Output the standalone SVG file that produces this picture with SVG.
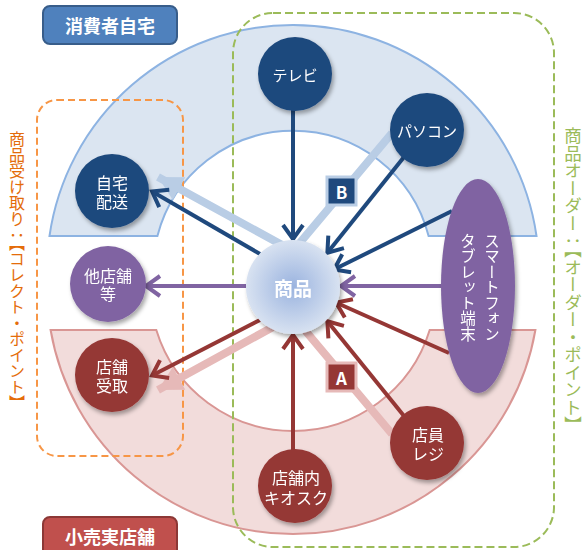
<svg xmlns="http://www.w3.org/2000/svg" width="584" height="550" viewBox="0 0 584 550">
<defs>
<style>
text{font-family:"Noto Sans CJK JP","Noto Sans",sans-serif}
.wt{fill:#fff;font-size:16px;text-anchor:middle;dominant-baseline:central}
.kn{font-size:15px}
.lbl{fill:#fff;font-size:18px;font-weight:bold;text-anchor:middle;dominant-baseline:central}
.vt{writing-mode:vertical-rl}
.ring-b{fill:#DBE5F1;stroke:#8DB3E2;stroke-width:2}
.ring-r{fill:#F2DCDB;stroke:#D99694;stroke-width:2}
.dash-o{fill:none;stroke:#F79646;stroke-width:2;stroke-dasharray:7 4}
.dash-g{fill:none;stroke:#9BBB59;stroke-width:2;stroke-dasharray:8 4}
.ab{fill:none;stroke:#1F497D;stroke-width:4;marker-end:url(#mb)}
.ar{fill:none;stroke:#953735;stroke-width:4;marker-end:url(#mr)}
.ap{fill:none;stroke:#8064A2;stroke-width:4;marker-end:url(#mp)}
.lb{fill:none;stroke:#B9CDE5;stroke-width:8;stroke-linejoin:round;marker-end:url(#mlb)}
.lr{fill:none;stroke:#E6B9B8;stroke-width:8;stroke-linejoin:round;marker-end:url(#mlr)}
.sh{filter:url(#sh)}
</style>
<filter id="sh" x="-30%" y="-30%" width="160%" height="160%"><feDropShadow dx="2" dy="3" stdDeviation="2" flood-color="#000" flood-opacity="0.35"/></filter>
<radialGradient id="g" cx="50%" cy="50%" r="50%"><stop offset="0" stop-color="#9AB3DF"/><stop offset="1" stop-color="#D8E2F1"/></radialGradient>
<marker id="mb" markerUnits="userSpaceOnUse" markerWidth="24" markerHeight="24" viewBox="0 0 24 24" refX="18" refY="12" orient="auto" overflow="visible"><path d="M5,2 L19,12 L5,22" fill="none" stroke="#1F497D" stroke-width="4"/></marker>
<marker id="mr" markerUnits="userSpaceOnUse" markerWidth="24" markerHeight="24" viewBox="0 0 24 24" refX="18" refY="12" orient="auto" overflow="visible"><path d="M5,2 L19,12 L5,22" fill="none" stroke="#953735" stroke-width="4"/></marker>
<marker id="mp" markerUnits="userSpaceOnUse" markerWidth="24" markerHeight="24" viewBox="0 0 24 24" refX="18" refY="12" orient="auto" overflow="visible"><path d="M5,2 L19,12 L5,22" fill="none" stroke="#8064A2" stroke-width="4"/></marker>
<marker id="mlb" markerUnits="userSpaceOnUse" markerWidth="26" markerHeight="26" viewBox="0 0 26 26" refX="24" refY="13" orient="auto" overflow="visible"><path d="M0,0 L24,13 L0,26 Z" fill="#B9CDE5"/></marker>
<marker id="mlr" markerUnits="userSpaceOnUse" markerWidth="26" markerHeight="26" viewBox="0 0 26 26" refX="24" refY="13" orient="auto" overflow="visible"><path d="M0,0 L24,13 L0,26 Z" fill="#E6B9B8"/></marker>
</defs>
<rect width="584" height="550" fill="#fff"/>

<g id="rings">
<path class="ring-b" d="M49.5,236 A246,246 0 0 1 536.5,236 L428.6,236 A140,140 0 0 0 157.4,236 Z"/>
<path class="ring-r" d="M50.6,330 A246,246 0 0 0 535.4,330 L429.7,330 A143,143 0 0 1 156.3,330 Z"/>
</g>

<g id="groups">
<rect class="dash-o" x="37" y="100" width="146" height="356" rx="20"/>
<rect class="dash-g" x="233" y="13" width="321" height="534" rx="40"/>
</g>

<g id="connectors">
<polyline class="lb" points="392,133 293,251 158,177"/>
<polyline class="lr" points="392,434 293,316 158,390"/>
<line class="ab" x1="293" y1="110" x2="293" y2="238"/>
<line class="ab" x1="404" y1="157" x2="328" y2="252"/>
<line class="ab" x1="452" y1="211" x2="335" y2="269"/>
<line class="ab" x1="260" y1="254" x2="153" y2="192"/>
<line class="ar" x1="293" y1="450" x2="293" y2="336"/>
<line class="ar" x1="404" y1="416" x2="328" y2="322"/>
<line class="ar" x1="449" y1="353" x2="337" y2="303"/>
<line class="ar" x1="260" y1="320" x2="153" y2="375"/>
<line class="ap" x1="442" y1="286" x2="342" y2="286"/>
<line class="ap" x1="246" y1="286" x2="147" y2="286"/>
</g>

<g id="badgeB">
<rect x="327" y="177" width="29" height="28" fill="#1F497D" stroke="#B9CDE5" stroke-width="3"/>
<text x="341.5" y="191.5" class="lbl" style="font-size:17px">B</text>
</g>
<g id="badgeA">
<rect x="327" y="363" width="29" height="28" fill="#953735" stroke="#E6B9B8" stroke-width="3"/>
<text x="341.5" y="377.5" class="lbl" style="font-size:17px">A</text>
</g>

<g id="n-tv" class="sh"><circle cx="295" cy="74" r="37" fill="#1F497D"/><text class="wt kn" x="295" y="74">テレビ</text></g>
<g id="n-pc" class="sh"><circle cx="427" cy="130" r="37" fill="#1F497D"/><text class="wt kn" x="427" y="130">パソコン</text></g>
<g id="n-home" class="sh"><circle cx="112" cy="191" r="37" fill="#1F497D"/><text class="wt" x="112" y="182">自宅<tspan x="112" dy="19">配送</tspan></text></g>
<g id="n-other" class="sh"><circle cx="108" cy="284" r="38" fill="#8064A2"/><text class="wt" x="108" y="275">他店舗<tspan x="108" dy="18">等</tspan></text></g>
<g id="n-pickup" class="sh"><circle cx="112" cy="375" r="37" fill="#953735"/><text class="wt" x="112" y="366">店舗<tspan x="112" dy="19">受取</tspan></text></g>
<g id="n-kiosk" class="sh"><circle cx="295" cy="486" r="37" fill="#953735"/><text class="wt" x="296" y="477">店舗内<tspan x="296" dy="20">キオスク</tspan></text></g>
<g id="n-reji" class="sh"><circle cx="427" cy="443" r="37" fill="#953735"/><text class="wt" x="428" y="434">店員<tspan x="428" dy="19">レジ</tspan></text></g>
<g id="n-phone" class="sh"><ellipse cx="478" cy="286" rx="37" ry="107" fill="#8064A2"/>
<text class="vt" x="492" y="233" fill="#fff" font-size="15.5">スマートフォン</text>
<text class="vt" x="468" y="233" fill="#fff" font-size="15.5">タブレット端末</text></g>
<g id="n-goods" class="sh"><circle cx="293" cy="287" r="47" fill="url(#g)"/><text class="lbl" x="293" y="287" style="font-size:19px">商品</text></g>

<g id="label-home"><rect x="43" y="6" width="134" height="38" rx="7" fill="#4F81BD" stroke="#385D8A" stroke-width="2"/><text class="lbl" x="110" y="25">消費者自宅</text></g>
<g id="label-store"><rect x="43" y="517" width="134" height="40" rx="7" fill="#C0504D" stroke="#8C3836" stroke-width="2"/><text class="lbl" x="110" y="536">小売実店舗</text></g>

<text class="vt" x="17" y="131" fill="#E46C0A" font-size="16">商品受け取り：【コレクト・ポイント】</text>
<text class="vt" x="573" y="127" fill="#9BBB59" font-size="17.5">商品オーダー：【オーダー・ポイント】</text>
</svg>
